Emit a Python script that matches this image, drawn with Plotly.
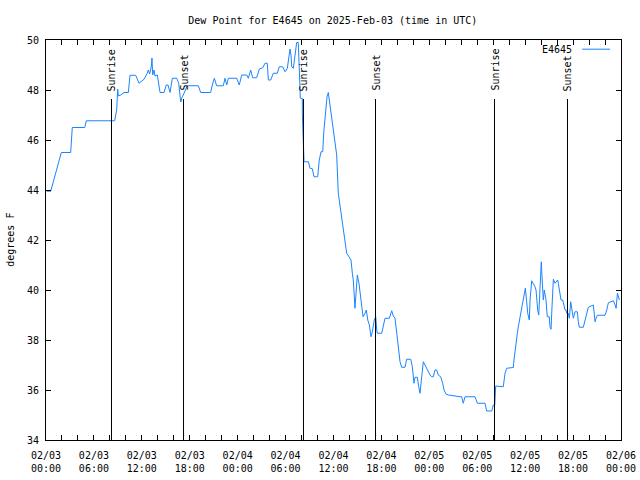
import pandas as pd
import plotly.graph_objects as go

# Hours since 2025-02-03 00:00 UTC and dew point (°F)
hours = [0.09, 0.59, 1.92, 3.09, 3.29, 4.85, 5.05, 8.60, 8.85, 8.98, 9.05, 9.35, 9.77, 10.31, 10.52, 11.23,
         11.65, 12.27, 12.68, 12.81, 12.98, 13.19, 13.27, 13.36, 13.53, 13.65, 13.94, 14.06, 14.28, 14.78,
         15.06, 15.28, 15.53, 15.82, 16.37, 16.62, 16.87, 17.07, 17.19, 17.69, 19.07, 19.37, 20.62, 20.82,
         21.08, 21.37, 22.20, 22.41, 22.63, 22.83, 23.88, 24.20, 24.51, 25.13, 25.33, 25.63, 25.88, 26.38,
         26.71, 27.14, 27.42, 27.71, 27.84, 28.14, 28.46, 28.96, 29.21, 29.64, 29.93, 30.22, 30.55, 30.68,
         30.77, 30.97, 31.09, 31.22, 31.39, 31.59, 31.72, 31.81, 31.84, 32.09, 32.10, 32.22, 32.31, 32.85,
         33.06, 33.35, 33.56, 34.02, 34.22, 34.44, 34.65, 34.77, 35.03, 35.19, 35.35, 35.56, 35.78, 36.10,
         36.40, 36.60, 37.03, 37.23, 37.44, 37.65, 37.94, 38.19, 38.36, 38.48, 38.69, 38.82, 38.98, 39.19,
         39.36, 39.53, 39.70, 39.95, 40.11, 40.29, 40.49, 40.70, 40.86, 41.11, 41.29, 41.41, 41.49, 42.04,
         42.24, 42.45, 42.99, 43.16, 43.29, 43.49, 43.70, 43.92, 44.12, 44.33, 44.54, 44.95, 45.16, 45.67,
         45.87, 45.99, 46.08, 46.21, 46.49, 46.67, 46.83, 46.96, 47.12, 47.25, 47.46, 47.75, 48.09, 48.30,
         48.50, 48.71, 48.92, 49.12, 49.42, 49.67, 49.84, 50.09, 50.38, 51.84, 52.05, 52.25, 52.47, 53.72,
         54.01, 54.97, 55.18, 55.81, 56.01, 56.19, 56.22, 56.31, 57.26, 57.48, 57.69, 58.52, 58.60, 58.73,
         58.85, 59.02, 59.14, 59.36, 59.57, 59.77, 59.89, 60.02, 60.19, 60.32, 60.52, 60.61, 60.82, 61.02,
         61.23, 61.36, 61.44, 61.57, 61.70, 61.77, 61.86, 61.95, 62.02, 62.11, 62.20, 62.27, 62.40, 62.61,
         62.77, 63.02, 63.11, 63.24, 63.40, 63.53, 63.74, 63.95, 64.08, 64.15, 64.37, 64.49, 64.70, 64.86,
         64.99, 65.11, 65.20, 65.40, 65.53, 65.70, 65.83, 66.03, 66.24, 66.53, 66.66, 66.78, 67.28, 67.49,
         67.71, 67.91, 68.53, 68.62, 68.75, 68.87, 69.04, 70.00, 70.22, 70.42, 71.04, 71.27, 71.39, 71.55,
         71.67, 71.80]
dewpoint = [43.95, 43.95, 45.5, 45.5, 46.5, 46.5, 46.77, 46.77, 47.2, 48.03, 47.76, 47.8, 47.9, 47.9, 48.59, 48.59,
            48.27, 48.43, 48.67, 48.8, 48.64, 48.96, 49.28, 48.6, 48.8, 48.56, 48.6, 48.27, 47.9, 47.9,
            48.2, 48.2, 47.9, 48.47, 48.47, 48.27, 47.52, 47.73, 47.8, 48.17, 48.17, 47.9, 47.9, 48.2,
            48.47, 48.17, 48.17, 48.47, 48.2, 48.47, 48.47, 48.2, 48.6, 48.6, 48.47, 48.8, 48.49, 48.49,
            48.84, 48.89, 49.07, 49.07, 48.4, 48.4, 48.67, 48.67, 48.93, 48.93, 48.73, 48.87, 49.64, 49.4,
            48.93, 48.87, 49.16, 49.4, 49.9, 49.9, 49.13, 48.07, 47.67, 47.67, 47.07, 45.8, 45.13, 45.13,
            44.87, 44.85, 44.53, 44.53, 45.2, 45.53, 45.53, 46.27, 47.33, 47.73, 47.9, 47.4, 46.93, 46.07,
            45.4, 43.87, 42.93, 42.4, 41.93, 41.47, 41.33, 41.2, 40.67, 40.4, 39.27, 40.0, 40.6, 40.27,
            39.87, 39.33, 38.93, 39.07, 39.2, 38.8, 38.6, 38.13, 38.33, 38.8, 38.93, 38.4, 38.27, 38.27,
            38.6, 38.87, 38.87, 39.04, 39.17, 38.96, 38.87, 38.27, 37.6, 37.13, 36.91, 36.91, 37.23, 37.23,
            36.93, 36.47, 36.27, 36.51, 36.51, 36.13, 35.87, 36.27, 36.8, 37.13, 37.0, 36.8, 36.6, 36.53,
            36.53, 36.8, 36.8, 36.6, 36.53, 36.27, 36.0, 35.84, 35.8, 35.73, 35.73, 35.47, 35.73, 35.73,
            35.47, 35.47, 35.16, 35.16, 35.4, 35.4, 35.87, 36.16, 36.13, 36.67, 36.87, 36.9, 37.2, 37.6,
            38.0, 38.27, 38.53, 38.93, 39.27, 39.6, 39.87, 40.07, 39.53, 39.07, 38.8, 39.6, 40.37, 40.27,
            40.13, 40.0, 39.6, 39.2, 39.0, 39.47, 40.13, 40.64, 41.13, 40.53, 39.87, 39.6, 40.0, 39.6,
            38.93, 38.93, 38.53, 38.43, 39.6, 40.43, 40.27, 40.33, 40.4, 40.27, 39.87, 39.6, 39.6, 39.33,
            39.2, 39.2, 39.07, 39.07, 38.87, 39.53, 39.27, 38.87, 39.13, 39.13, 38.73, 38.51, 38.51, 38.8,
            39.07, 39.31, 39.4, 39.2, 38.73, 38.87, 38.99, 38.99, 39.2, 39.49, 39.57, 39.4, 39.27, 39.87,
            39.73, 39.6]

# Sun events (hours since 2025-02-03 00:00 UTC)
event_hours = [8.20, 17.22, 32.24, 41.26, 56.16, 65.30]
event_labels = ["Sunrise", "Sunset", "Sunrise", "Sunset", "Sunrise", "Sunset"]
event_line_top = 47.64
event_label_base = 47.88

station = "E4645"
title_text = "Dew Point for E4645 on 2025-Feb-03 (time in UTC)"
y_label = "degrees F"

start = pd.Timestamp("2025-02-03 00:00")
end = pd.Timestamp("2025-02-06 00:00")
times = start + pd.to_timedelta(hours, unit="h")
event_times = start + pd.to_timedelta(event_hours, unit="h")

FONT = "DejaVu Sans Mono"
FS = 10
BLUE = "#1a84ff"

fig = go.Figure()
fig.add_trace(go.Scatter(x=times, y=dewpoint, mode="lines", name=station,
                         line=dict(color=BLUE, width=1), showlegend=False))

for t, lab in zip(event_times, event_labels):
    fig.add_shape(type="line", xref="x", yref="y", x0=t, x1=t, y0=34, y1=event_line_top,
                  line=dict(color="black", width=1))
    fig.add_annotation(x=t, y=event_label_base, xref="x", yref="y", text=lab, textangle=-90,
                       showarrow=False, xanchor="center", yanchor="bottom",
                       font=dict(family=FONT, size=FS, color="black"))

# legend (gnuplot style: label then sample)
fig.add_annotation(x=0.9175, y=0.977, xref="paper", yref="paper", text=station, showarrow=False,
                   xanchor="right", yanchor="middle", font=dict(family=FONT, size=FS, color="black"))
fig.add_shape(type="line", xref="paper", yref="paper", x0=0.9325, x1=0.981, y0=0.977, y1=0.977,
              line=dict(color=BLUE, width=1))

fig.add_annotation(x=-0.063, y=0.5, xref="paper", yref="paper", text=y_label, textangle=-90,
                   showarrow=False, xanchor="center", yanchor="middle",
                   font=dict(family=FONT, size=FS, color="black"))

fig.update_layout(
    width=640, height=480,
    margin=dict(l=46, r=19, t=40, b=40),
    paper_bgcolor="white", plot_bgcolor="white",
    font=dict(family=FONT, size=FS, color="black"),
    title=dict(text=title_text, x=0.52, xanchor="center", y=0.958, yanchor="middle",
               font=dict(family=FONT, size=FS, color="black")),
    showlegend=False,
)
fig.update_xaxes(range=[start, end], type="date", dtick=6 * 3600 * 1000, tick0=start,
                 tickformat="%m/%d<br>%H:%M", ticks="inside", ticklen=5, tickcolor="black",
                 showline=True, linecolor="black", linewidth=1, mirror="ticks", showgrid=False,
                 zeroline=False, tickfont=dict(family=FONT, size=FS), automargin=False,
                 ticklabelstandoff=6,
                 minor=dict(dtick=2 * 3600 * 1000, ticks="inside", ticklen=5, tickcolor="black",
                            showgrid=False))
fig.update_yaxes(range=[34, 50], dtick=2, ticks="inside", ticklen=5, tickcolor="black",
                 showline=True, linecolor="black", linewidth=1, mirror="ticks", showgrid=False,
                 zeroline=False, tickfont=dict(family=FONT, size=FS), automargin=False,
                 ticklabelstandoff=4)

fig.write_html("out.html")
